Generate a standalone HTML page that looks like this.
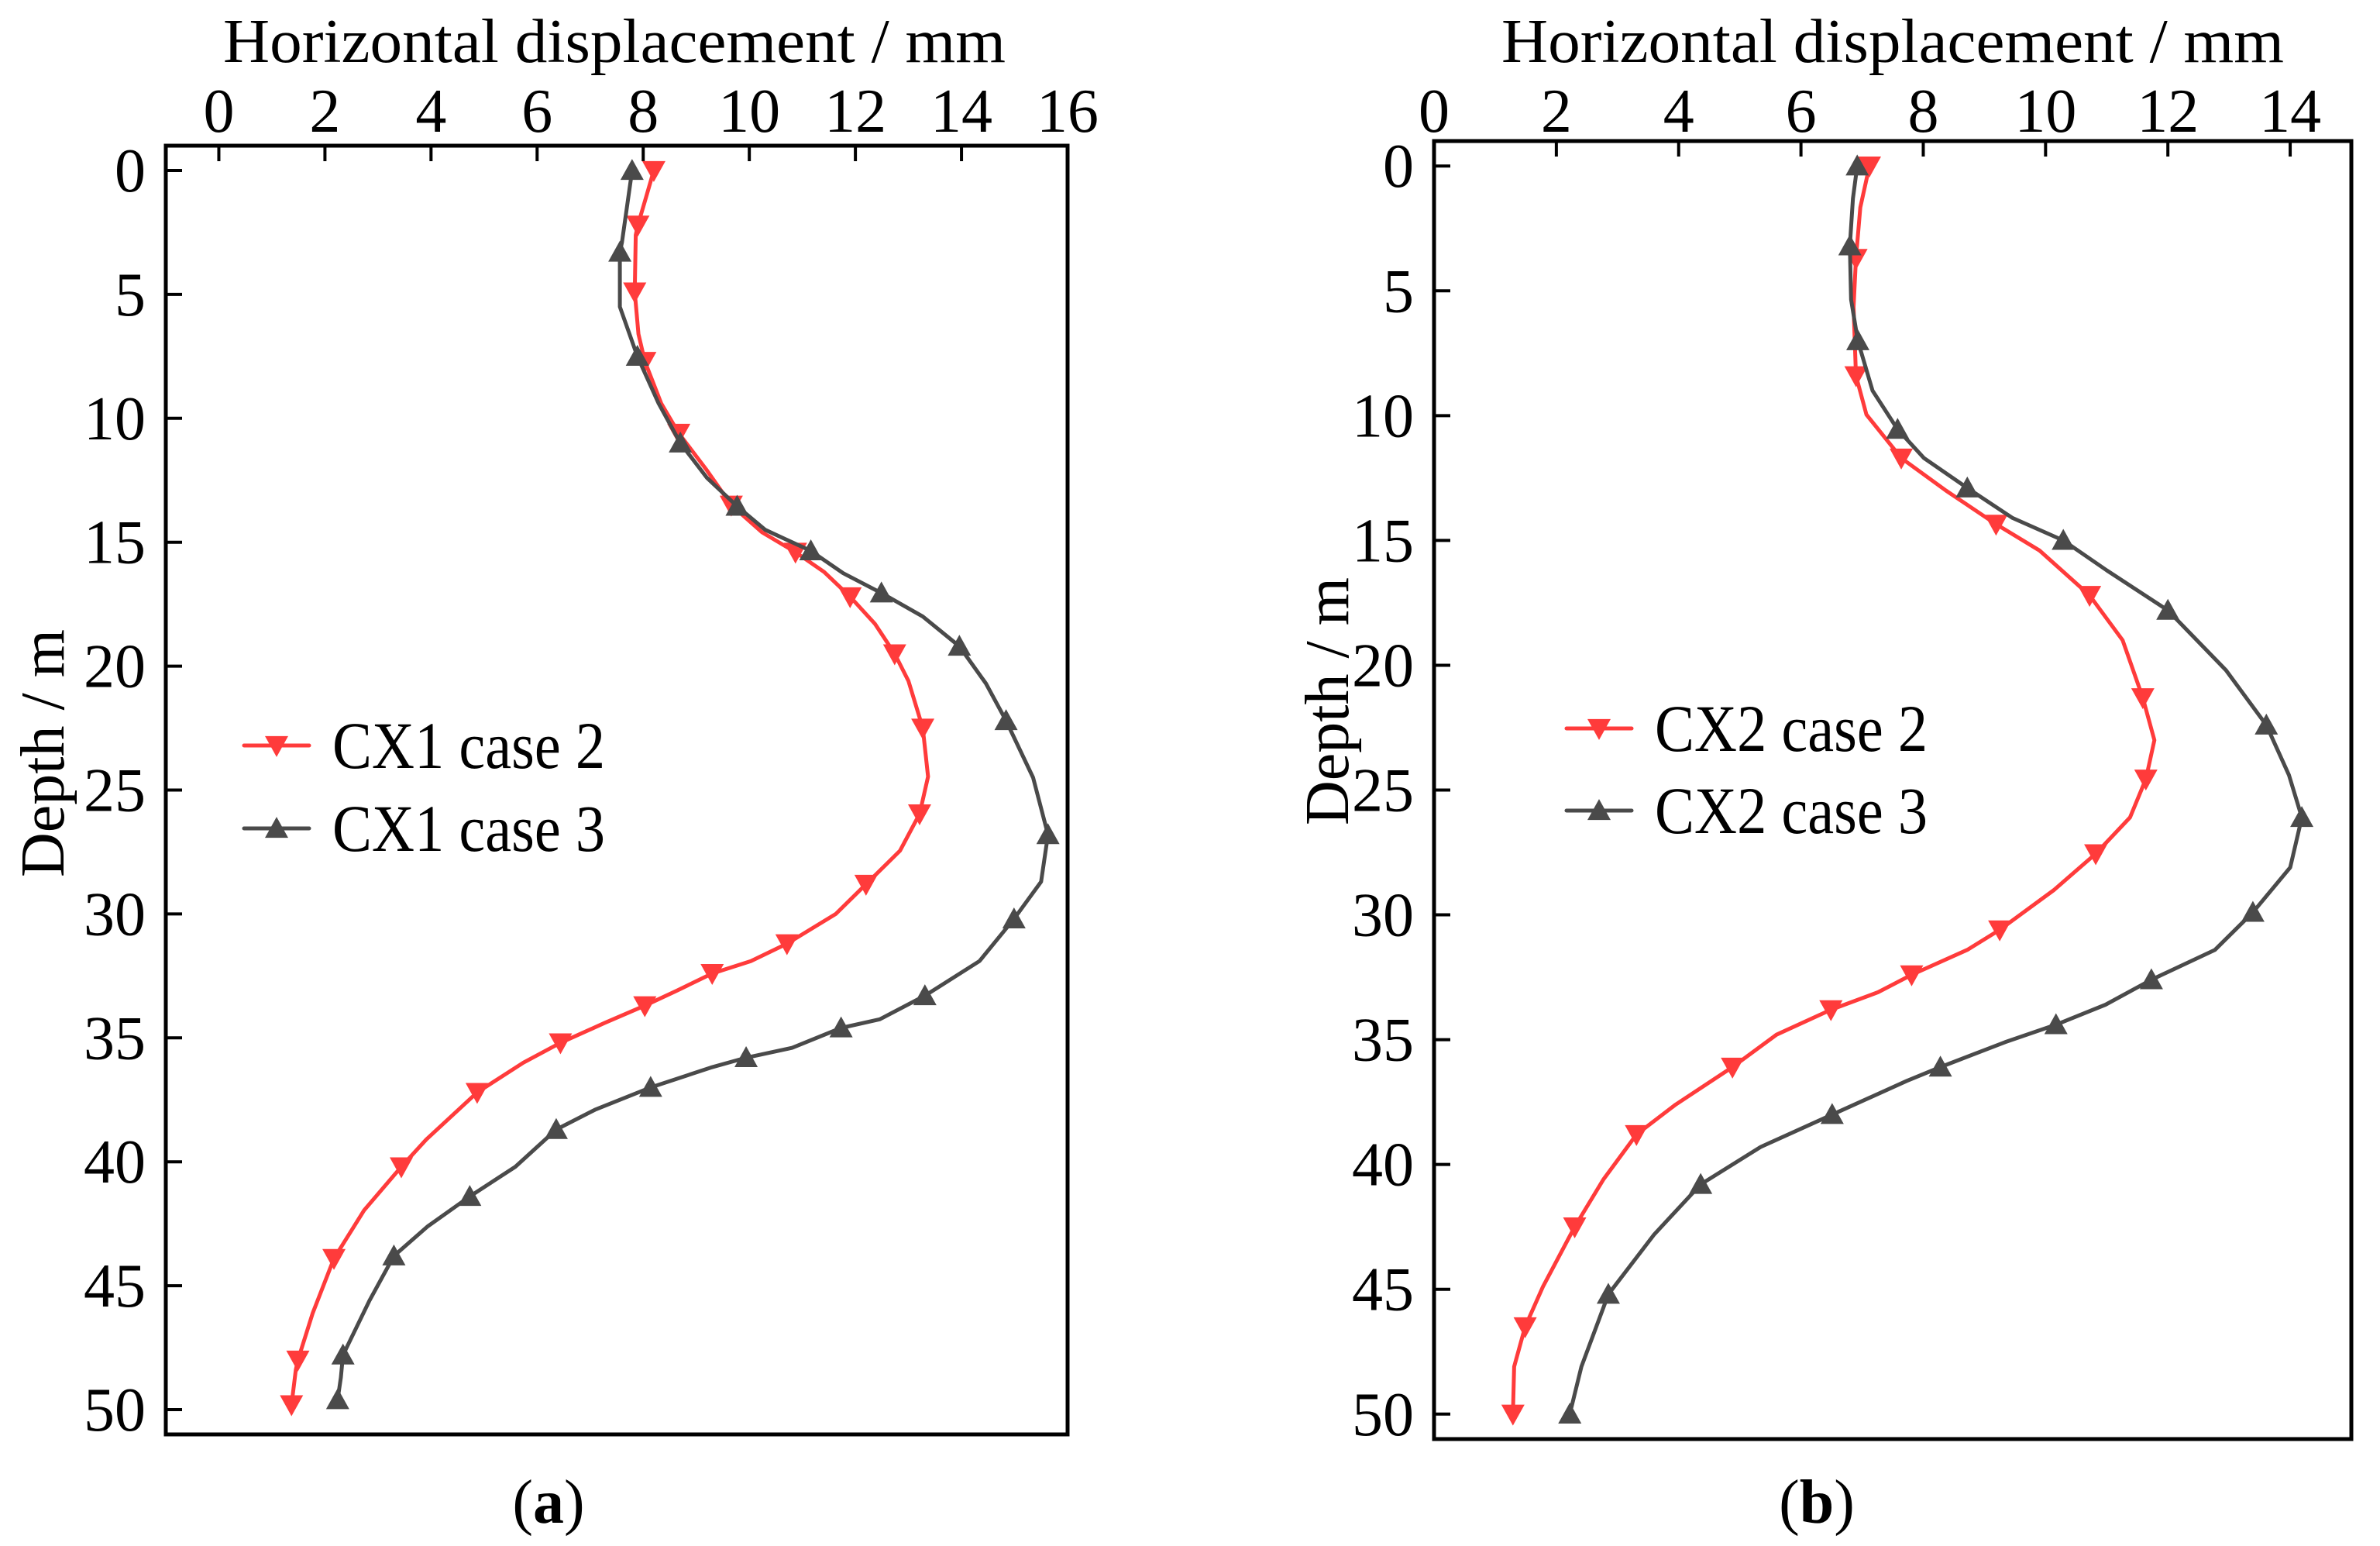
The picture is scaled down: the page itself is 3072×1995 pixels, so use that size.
<!DOCTYPE html>
<html><head><meta charset="utf-8">
<style>
html,body{margin:0;padding:0;background:#fff;}
svg{display:block;}
text{font-family:"Liberation Serif","DejaVu Serif","Noto Serif CJK SC",serif;fill:#000;}
</style></head>
<body>
<svg id="chart" width="3072" height="1995" viewBox="0 0 3072 1995" xmlns="http://www.w3.org/2000/svg" font-family="'Liberation Serif','DejaVu Serif',serif"></svg>
<script>
// Panel (a) data: depth (m) and displacement (mm); markers on even indices
const cx1Case2Depth = [0,1.1,2.2,2.6,4.9,6.6,7.7,9.4,10.6,12.1,13.5,14.6,15.4,16.2,17.2,18.3,19.5,20.6,22.5,24.46,25.96,27.45,28.8,30,31.2,31.9,32.4,33.1,33.7,34.4,35.2,36,37.2,39.1,40.2,41.95,43.9,46.1,48,48.4,49.8];
const cx1Case2Disp = [8.2,8.05,7.9,7.86,7.84,7.91,8.03,8.34,8.67,9.2,9.66,10.24,10.87,11.41,11.9,12.37,12.74,13.0,13.27,13.37,13.21,12.84,12.2,11.63,10.71,10.03,9.3,8.63,8.03,7.27,6.44,5.74,4.87,3.91,3.44,2.74,2.17,1.77,1.49,1.45,1.37];
const cx1Case3Depth = [0,2.9,3.3,5.5,7.5,9.4,11,12.4,13.55,14.5,15.35,16.25,17.05,18,19.2,20.7,22.2,24.5,26.8,28.7,30.2,31.9,33.3,34.25,34.6,35.4,35.8,36.2,37,37.9,38.7,40.2,41.4,42.6,43.8,45.6,47.8,48.7,49.6];
const cx1Case3Disp = [7.79,7.6,7.56,7.56,7.89,8.29,8.7,9.2,9.77,10.3,11.16,11.77,12.49,13.27,13.96,14.46,14.84,15.35,15.63,15.5,14.99,14.34,13.31,12.46,11.73,10.81,9.94,9.27,8.14,7.09,6.36,5.59,4.73,3.94,3.3,2.84,2.34,2.3,2.24];
// Panel (b) data
const cx2Case2Depth = [0,1.66,3.7,5.65,8.4,9.96,11.7,13.0,14.35,15.4,17.2,19.0,21.3,23.0,24.56,26.1,27.55,29.0,30.6,31.4,32.4,33.1,33.8,34.8,36.1,37.6,38.8,40.6,42.5,44.9,46.5,48.1,50];
const cx2Case2Disp = [7.12,6.97,6.9,6.86,6.9,7.07,7.64,8.37,9.19,9.9,10.72,11.26,11.59,11.78,11.64,11.38,10.82,10.14,9.25,8.72,7.81,7.26,6.49,5.6,4.88,3.95,3.31,2.77,2.3,1.78,1.49,1.31,1.29];
const cx2Case3Depth = [0,1.3,3.2,5.35,7.0,9.0,10.55,11.7,12.9,14.1,15.0,16.2,17.8,20.2,22.4,24.4,26.1,28.1,29.9,31.4,32.6,33.6,34.4,35.1,36.1,36.65,38.0,39.3,40.8,42.8,45.2,48.1,50];
const cx2Case3Disp = [6.92,6.85,6.8,6.82,6.93,7.17,7.58,8.01,8.72,9.46,10.29,11.0,12.0,12.95,13.61,13.98,14.19,14.0,13.39,12.77,11.73,10.98,10.17,9.34,8.28,7.73,6.51,5.34,4.36,3.6,2.85,2.41,2.22];
const xTicksA = [0,2,4,6,8,10,12,14,16];
const xTicksB = [0,2,4,6,8,10,12,14];
const yTicks = [0,5,10,15,20,25,30,35,40,45,50];

const NS = "http://www.w3.org/2000/svg";
const svg = document.getElementById('chart');
const FONT = "'Liberation Serif','DejaVu Serif',serif";
function mk(tag, attrs, parent){
  const e = document.createElementNS(NS, tag);
  for (const k in attrs) e.setAttribute(k, attrs[k]);
  if (tag === 'text') e.setAttribute('font-family', FONT);
  (parent||svg).appendChild(e);
  return e;
}
const RED = '#ff3b3b', DARK = '#4a4a4a';
function tri(x,y,down,color,parent){
  const w=15,h=27;
  const pts = down ? `${x-w},${y-h*0.45} ${x+w},${y-h*0.45} ${x},${y+h*0.55}` : `${x-w},${y+h*0.45} ${x+w},${y+h*0.45} ${x},${y-h*0.55}`;
  return mk('polygon',{points:pts,fill:color},parent);
}

function panel(p){
  const g = mk('g',{});
  
  
  const sx = v => p.L + (v - p.xmin)/(p.xmax-p.xmin)*(p.R-p.L);
  const sy = v => p.T + (v - (-1))/52*(p.B-p.T);
  p.xTicks.forEach(t=>{
    const x = sx(t);
    const l = mk('line',{x1:x,y1:p.T,x2:x,y2:p.T+20,stroke:'#000','stroke-width':4},g);
    
    
    const tx = mk('text',{x:x,y:170,'font-size':80,'text-anchor':'middle'},g);
    tx.textContent = t;
    
    
  });
  yTicks.forEach(t=>{
    const y = sy(t);
    const l = mk('line',{x1:p.L,y1:y,x2:p.L+21,y2:y,stroke:'#000','stroke-width':4},g);
    
    
    const tx = mk('text',{x:p.L-26,y:y+27,'font-size':80,'text-anchor':'end'},g);
    tx.textContent = t;
    
    
  });
  p.series.forEach(s=>{
    const d = s.depth.map((dv,i)=>(i?'L':'M')+sx(s.disp[i]).toFixed(1)+','+sy(dv).toFixed(1)).join(' ');
    const path = mk('path',{d:d,fill:'none',stroke:s.color,'stroke-width':5,'stroke-linejoin':'round'},g);
    
    
    s.depth.forEach((dv,i)=>{
      if (i%2===0){
        const m = tri(sx(s.disp[i]), sy(dv), s.down, s.color, g);
        
        
      }
    });
  });
  const f = mk('rect',{x:p.L,y:p.T,width:p.R-p.L,height:p.B-p.T,fill:'none',stroke:'#000','stroke-width':5},g);
  
  
  const xt = mk('text',{x:p.titleX,y:80,'font-size':80,'text-anchor':'middle',textLength:1010,lengthAdjust:'spacingAndGlyphs'},g);
  xt.textContent = 'Horizontal displacement  / mm';
  
  
  const yt = mk('text',{x:0,y:0,'font-size':80,'text-anchor':'middle',transform:`translate(${p.yTitleX},${p.yTitleY}) rotate(-90)`},g);
  yt.textContent = 'Depth / m';
  
  
  p.series.forEach((s,i)=>{
    const y = p.legY[i];
    const lg = mk('g',{},g);
    
    
    mk('line',{x1:p.legX,y1:y,x2:p.legX+84,y2:y,stroke:s.color,'stroke-width':5,'stroke-linecap':'round'},lg);
    tri(p.legX+42,y,s.down,s.color,lg);
    const t = mk('text',{x:p.legX+114,y:y+29,'font-size':86,textLength:352,lengthAdjust:'spacingAndGlyphs'},lg);
    t.textContent = s.label;
  });
  const cap = mk('text',{x:p.capX,y:1965,'font-size':80,'text-anchor':'middle'},g);
  cap.innerHTML = '(<tspan font-weight="bold">'+p.cap+'</tspan>)';
  
  
}

panel({name:'panel-a',L:214,R:1378,T:188,B:1851,xmin:-1,xmax:16,xTicks:xTicksA,
  titleX:793,yTitleX:82,yTitleY:972,legX:315,legY:[962,1069],capX:708,cap:'a',
  series:[
    {name:'cx1-case-2',label:'CX1 case 2',color:RED,down:true,depth:cx1Case2Depth,disp:cx1Case2Disp},
    {name:'cx1-case-3',label:'CX1 case 3',color:DARK,down:false,depth:cx1Case3Depth,disp:cx1Case3Disp}
  ]});
panel({name:'panel-b',L:1851,R:3035,T:182,B:1857,xmin:0,xmax:15,xTicks:xTicksB,
  titleX:2443,yTitleX:1740,yTitleY:905,legX:2022,legY:[940,1046],capX:2345,cap:'b',
  series:[
    {name:'cx2-case-2',label:'CX2 case 2',color:RED,down:true,depth:cx2Case2Depth,disp:cx2Case2Disp},
    {name:'cx2-case-3',label:'CX2 case 3',color:DARK,down:false,depth:cx2Case3Depth,disp:cx2Case3Disp}
  ]});
</script>
</body></html>
